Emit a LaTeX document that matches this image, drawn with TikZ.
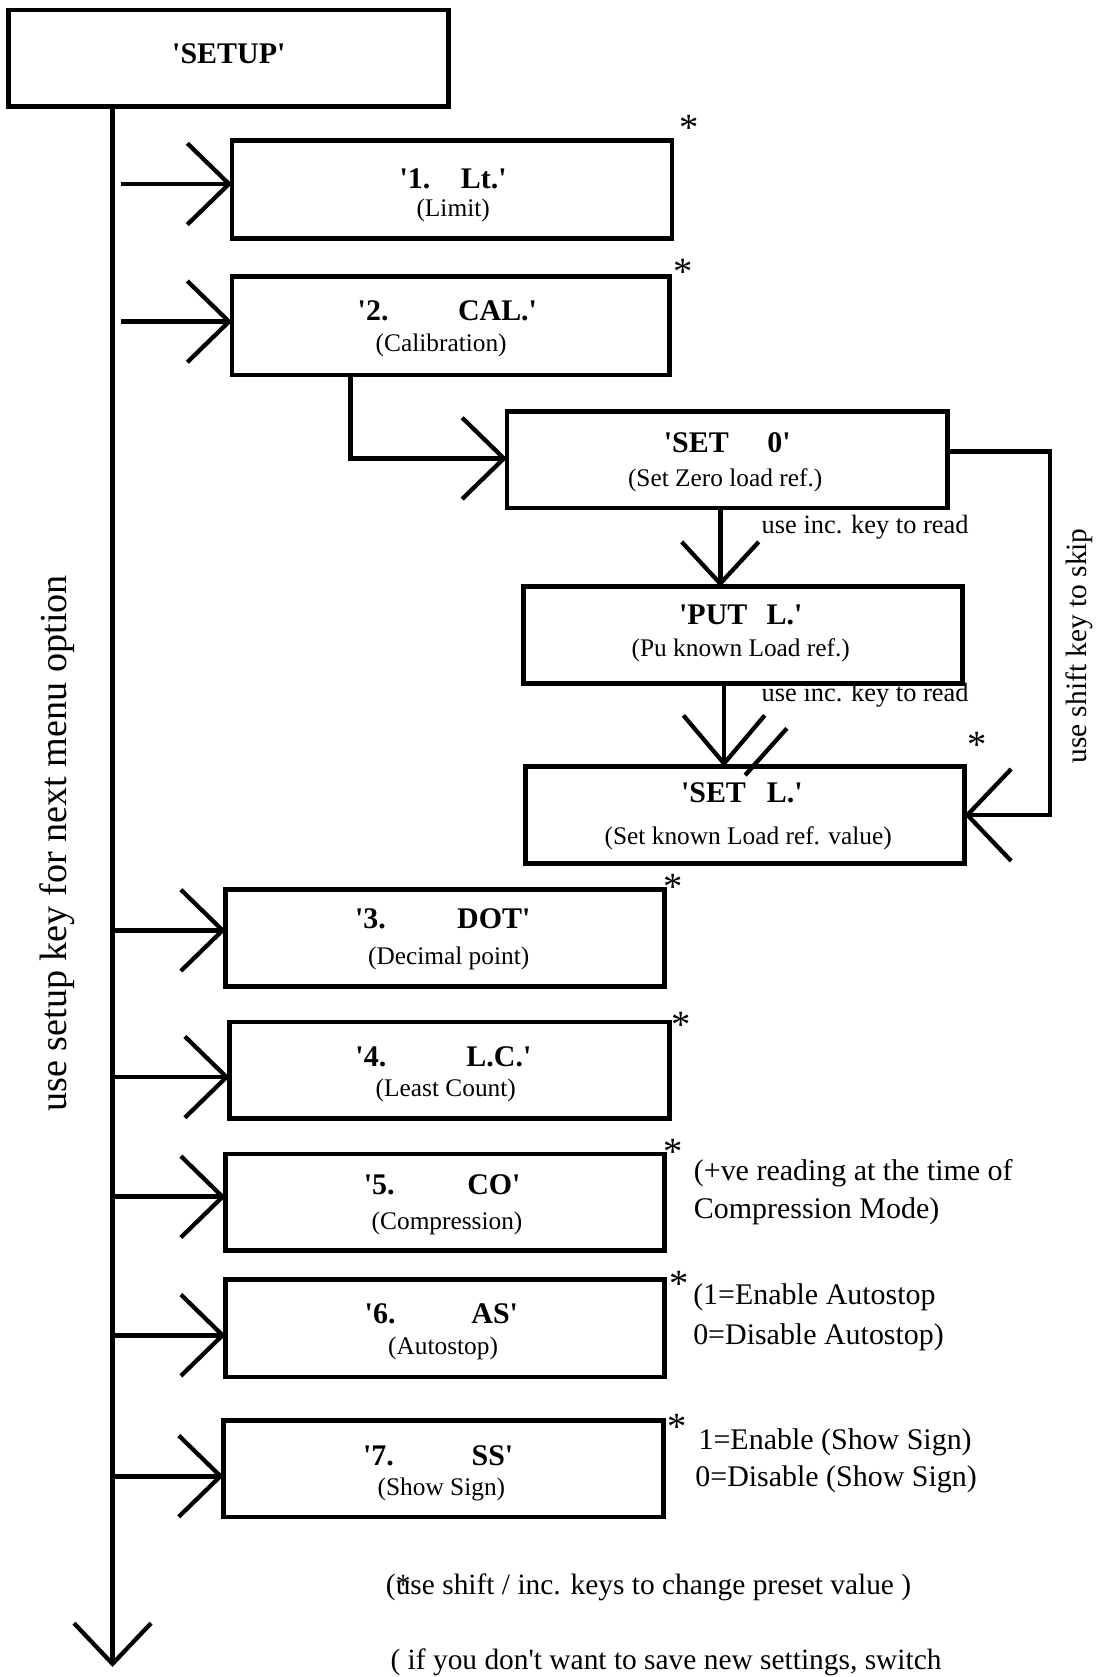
\documentclass[tikz,border=0pt]{standalone}
\usepackage{fontspec}
\setmainfont{Liberation Serif}[Ligatures=TeXOff]
\usetikzlibrary{arrows.meta,calc}
\begin{document}
\begin{tikzpicture}[x=1pt,y=-1pt,
  box/.style={draw,line width=4.5pt,rectangle,inner sep=0pt,outer sep=0pt,anchor=north west},
  ttl/.style={font=\fontsize{28}{30}\selectfont\bfseries,inner sep=0pt,text height=0.66em,text depth=0pt,yshift=-6pt},
  sub/.style={font=\fontsize{23.7}{26}\selectfont,inner sep=0pt,text height=0.69em,text depth=0.18em,yshift=-5pt},
  note/.style={font=\fontsize{28}{30}\selectfont,inner sep=0pt,anchor=west,text height=0.69em,text depth=0.18em,yshift=-6.5pt},
  lbl/.style={font=\fontsize{24.7}{27}\selectfont,inner sep=0pt,anchor=base west},
  foot/.style={font=\fontsize{27.5}{30}\selectfont,inner sep=0pt,anchor=base west},
  star/.style={font=\fontsize{36}{36}\selectfont,inner sep=0pt,anchor=base},
  conn/.style={line width=4.5pt},
  arr/.style={conn,-{Straight Barb[length=39pt,width=76pt,line width=4pt]}},
]
\useasboundingbox[fill=white] (0,0) rectangle (1024,1568);

% boxes
\node[box,minimum width=411.3pt,minimum height=90.4pt] (setup) at (8.3,9.4) {};
\node[box,minimum width=411.4pt,minimum height=92pt] (b1) at (217,131) {};
\node[box,minimum width=409pt,minimum height=92pt] (b2) at (217,258.7) {};
\node[box,minimum width=412pt,minimum height=90pt] (s0) at (474,385) {};
\node[box,minimum width=410pt,minimum height=90.4pt] (pl) at (489.6,548.6) {};
\node[box,minimum width=410.2pt,minimum height=90pt] (sl) at (491.5,717) {};
\node[box,minimum width=410pt,minimum height=90.3pt] (b3) at (211,831.7) {};
\node[box,minimum width=411pt,minimum height=90.1pt] (b4) at (214.7,955.5) {};
\node[box,minimum width=410pt,minimum height=90pt] (b5) at (211,1079) {};
\node[box,minimum width=410.6pt,minimum height=91.1pt] (b6) at (211,1196.4) {};
\node[box,minimum width=411.4pt,minimum height=90.4pt] (b7) at (209,1328) {};

% box texts
\node[ttl] (setupT) at ([shift={(0,-4.7)}]setup.center) {'SETUP'};
\node[ttl] (b1T) at ([shift={(1,-10.4)}]b1.center) {'1.\hspace{28.6pt}Lt.'};
\node[sub] (b1S) at ([shift={(1,18)}]b1.center) {(Limit)};
\node[ttl] (b2T) at ([shift={(-3.2,-14)}]b2.center) {'2.\hspace{65pt}CAL.'};
\node[sub] (b2S) at ([shift={(-9,16.3)}]b2.center) {(Calibration)};
\node[ttl] (s0T) at ([shift={(0,-16.5)}]s0.center) {'SET\hspace{36pt}0'};
\node[sub] (s0S) at ([shift={(-2,17)}]s0.center) {(Set Zero load ref.)};
\node[ttl] (plT) at ([shift={(-2,-18.8)}]pl.center) {'PUT\hspace{18pt}L.'};
\node[sub] (plS) at ([shift={(-2,12.2)}]pl.center) {(Pu known Load ref.)};
\node[ttl] (slT) at ([shift={(-3,-21)}]sl.center) {'SET\hspace{19.5pt}L.'};
\node[sub] (slS) at ([shift={(3,19.6)}]sl.center) {(Set known Load ref. value)};
\node[ttl] (b3T) at ([shift={(-2,-18.3)}]b3.center) {'3.\hspace{66.7pt}DOT'};
\node[sub] (b3S) at ([shift={(3.5,17.1)}]b3.center) {(Decimal point)};
\node[ttl] (b4T) at ([shift={(-5.6,-12.5)}]b4.center) {'4.\hspace{75pt}L.C.'};
\node[sub] (b4S) at ([shift={(-3.4,17)}]b4.center) {(Least Count)};
\node[ttl] (b5T) at ([shift={(-2.6,-16.5)}]b5.center) {'5.\hspace{68pt}CO'};
\node[sub] (b5S) at ([shift={(2,17.6)}]b5.center) {(Compression)};
\node[ttl] (b6T) at ([shift={(-3.6,-14)}]b6.center) {'6.\hspace{71pt}AS'};
\node[sub] (b6S) at ([shift={(-2,17.4)}]b6.center) {(Autostop)};
\node[ttl] (b7T) at ([shift={(-5,-12.5)}]b7.center) {'7.\hspace{72.7pt}SS'};
\node[sub] (b7S) at ([shift={(-2,17.8)}]b7.center) {(Show Sign)};

% asterisks
\node[star] (st1) at (644,131) {*};
\node[star] (st2) at (639,266) {*};
\node[star] (stl) at (914,708) {*};
\node[star] (st3) at (629.5,841) {*};
\node[star] (st4) at (637,970) {*};
\node[star] (st5) at (629,1089) {*};
\node[star] (st6) at (635,1212) {*};
\node[star] (st7) at (633,1346) {*};

% side notes
\node[note] (n5a) at (648.6,1095) {(+ve reading at the time of};
\node[note] (n5b) at (648.6,1130) {Compression Mode)};
\node[note] (n6a) at (648,1211) {(1=Enable Autostop};
\node[note] (n6b) at (648,1248.5) {0=Disable Autostop)};
\node[note] (n7a) at (653,1346) {1=Enable (Show Sign)};
\node[note] (n7b) at (650,1381) {0=Disable (Show Sign)};

% footnotes
\node[foot] (f1) at (360.7,1491) {(\rlap{*}use shift / inc. keys to change preset value )};
\node[foot] (f2) at (365,1560.5) {( if you don't want to save new settings, switch};

% labels
\node[lbl] (i1) at (712,498.8) {use inc. key to read};
\node[lbl] (i2) at (712,656) {use inc. key to read};
\node[font=\fontsize{27.5}{30}\selectfont,inner sep=0pt,rotate=90] (sk) at (1009,604) {use shift key to skip};
\node[font=\fontsize{35.7}{38}\selectfont,inner sep=0pt,rotate=90] (mt) at (53,788.6) {use setup key for next menu option};

% main line
\coordinate (m0) at (105.2,0);
\coordinate (m1) at (112.7,0);
\coordinate (mtop) at (setup.south -| m0);
\coordinate (mbot) at (105.2,1558.6);
\draw[arr,-{Straight Barb[length=38pt,width=72pt,line width=4pt]}] (mtop) -- (mbot);

% branch arrows
\coordinate (a1) at ([yshift=5pt]b1.west);
\coordinate (a2) at ([yshift=4pt]b2.west);
\coordinate (a3) at ([yshift=7pt]b3.west);
\coordinate (a4) at ([yshift=-6.5pt]b4.west);
\coordinate (a5) at ([yshift=5pt]b5.west);
\coordinate (a6) at ([yshift=-6.5pt]b6.west);
\coordinate (a7) at ([yshift=-7pt]b7.west);
\draw[arr] (a1 -| m1) -- (a1);
\draw[arr] (a2 -| m1) -- (a2);
\draw[arr] (a3 -| m0) -- (a3);
\draw[arr] (a4 -| m0) -- (a4);
\draw[arr] (a5 -| m0) -- (a5);
\draw[arr] (a6 -| m0) -- (a6);
\draw[arr] (a7 -| m0) -- (a7);

% calibration sub-flow
\coordinate (c2) at ([xshift=110.7pt]b2.south west);
\coordinate (s0w) at ([yshift=1.4pt]s0.west);
\draw[arr] (c2) |- (s0w);
\coordinate (d1) at ([xshift=-6.6pt]s0.south);
\draw[arr,-{Straight Barb[length=39pt,width=72pt,line width=4pt]}] (d1) -- (d1 |- pl.north);
\coordinate (d2) at ([xshift=-17.6pt]pl.south);
\draw[arr,-{Straight Barb[length=45pt,width=76pt,line width=4pt]}] (d2) -- (d2 |- sl.north);
\draw[line width=4pt] ([shift={(39.1,-36)}]sl.north) -- ([shift={(0.1,7.8)}]sl.north);
\coordinate (s0e) at ([yshift=8.2pt]s0.east);
\coordinate (kx) at (981.8,0);
\draw[arr,-{Straight Barb[length=41pt,width=86pt,line width=4pt]}] (s0e) -- (s0e -| kx) -- (kx |- sl.east) -- (sl.east);
\end{tikzpicture}
\end{document}
